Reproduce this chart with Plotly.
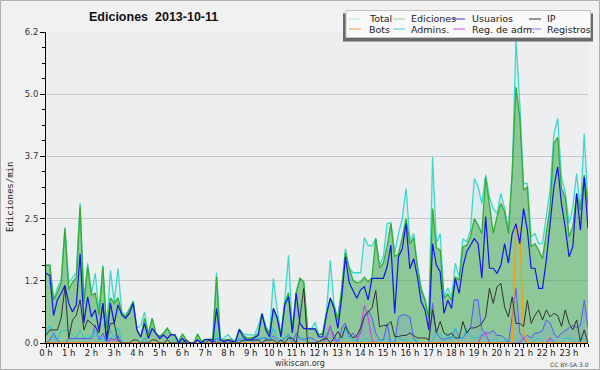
import plotly.graph_objects as go

# ---- data (10-minute buckets, 0:00 .. 23:50) ----
hour_labels = [f"{h} h" for h in range(24)]
y_tick_vals = [0, 1.24, 2.48, 3.72, 4.96, 6.2]
y_tick_text = ["0.0", "1.2", "2.5", "3.7", "5.0", "6.2"]

total = [
    1.55, 1.55, 0.86, 1.1, 1.25, 2.3,
    1.2, 1.3, 1.4, 2.79, 0.85, 1.59,
    1.0, 1.39, 0.6, 1.55, 0.3, 1.45,
    0.82, 1.49, 0.62, 0.55, 0.68, 0.84,
    0.3, 0.35, 0.62, 0.2, 0.49, 0.19,
    0.13, 0.2, 0.3, 0.17, 0.16, 0.03,
    0.18, 0.06, 0.0, 0.0, 0.18, 0.03,
    0.07, 0.07, 0.07, 1.4, 0.07, 0.1,
    0.17, 0.07, 0.03, 0.28, 0.19, 0.16,
    0.16, 0.16, 0.34, 0.6, 0.33, 0.2,
    1.29, 0.66, 0.16, 0.85, 1.75, 0.26,
    1.0, 1.29, 1.22, 0.29, 0.28, 0.41,
    0.16, 0.19, 0.62, 1.65, 0.75, 0.5,
    1.1, 1.88, 1.5, 1.4, 1.4, 1.4,
    2.1, 1.95, 1.93, 2.08, 1.55, 1.72,
    2.38, 2.4, 1.8, 2.18, 2.48, 3.08,
    2.05, 2.18, 1.55, 1.1, 0.88, 0.5,
    3.71, 2.0, 2.18, 0.92, 1.09, 0.92,
    1.59, 1.32, 2.08, 2.02, 2.25, 3.28,
    3.12, 2.78, 3.35, 2.91, 2.68, 2.58,
    2.98, 2.68, 2.25, 3.41, 6.05, 4.77,
    3.18, 3.18, 2.12, 2.18, 1.98, 1.98,
    2.52, 3.05, 4.17, 4.48, 3.31, 3.0,
    2.38, 2.71, 3.38, 2.65, 4.17, 2.75,
]
ediciones = [
    1.55, 1.55, 0.86, 1.0, 1.2, 2.28,
    1.06, 1.22, 1.3, 2.72, 0.79, 1.52,
    0.96, 0.99, 0.56, 1.52, 0.29, 0.9,
    0.79, 0.9, 0.59, 0.52, 0.66, 0.82,
    0.26, 0.12, 0.49, 0.16, 0.49, 0.19,
    0.13, 0.19, 0.29, 0.17, 0.16, 0.03,
    0.18, 0.06, 0.0, 0.0, 0.18, 0.03,
    0.07, 0.07, 0.07, 1.32, 0.06, 0.06,
    0.07, 0.07, 0.03, 0.27, 0.16, 0.1,
    0.1, 0.12, 0.2, 0.58, 0.3, 0.19,
    0.69, 0.5, 0.16, 0.8, 1.0, 0.26,
    1.0, 1.29, 1.22, 0.29, 0.28, 0.28,
    0.16, 0.19, 0.6, 0.9, 0.75, 0.45,
    1.06, 1.8, 1.49, 1.25, 1.2, 1.22,
    1.31, 1.22, 1.3, 2.08, 1.5, 1.59,
    1.93, 2.38, 1.72, 1.78, 2.1, 2.48,
    1.98, 2.1, 1.5, 1.05, 0.85, 0.5,
    2.68, 1.9, 1.85, 0.89, 0.98, 0.85,
    1.32, 1.25, 1.92, 1.95, 2.12, 2.48,
    2.35, 2.18, 3.31, 2.71, 2.19, 2.52,
    2.78, 2.62, 2.18, 3.38, 5.1, 4.5,
    3.05, 3.11, 1.92, 1.98, 1.85, 1.68,
    2.25, 2.71, 3.98, 4.1, 3.08, 2.9,
    2.12, 2.32, 2.98, 2.65, 3.35, 2.75,
]
usuarios = [
    1.39, 1.35, 0.55, 0.86, 0.99, 1.15,
    0.79, 0.62, 0.76, 1.78, 0.4, 0.92,
    0.52, 0.66, 0.24, 0.79, 0.05, 0.79,
    0.39, 0.76, 0.56, 0.49, 0.59, 0.79,
    0.26, 0.12, 0.39, 0.09, 0.29, 0.19,
    0.09, 0.16, 0.09, 0.17, 0.16, 0.0,
    0.09, 0.0, 0.0, 0.0, 0.06, 0.0,
    0.07, 0.07, 0.0, 0.69, 0.06, 0.03,
    0.06, 0.03, 0.03, 0.27, 0.12, 0.06,
    0.06, 0.1, 0.15, 0.58, 0.26, 0.12,
    0.69, 0.5, 0.12, 0.76, 0.92, 0.2,
    0.99, 0.39, 0.29, 0.28, 0.28, 0.28,
    0.12, 0.12, 0.56, 0.89, 0.69, 0.29,
    0.89, 1.72, 1.2, 1.04, 0.89, 1.06,
    1.12, 0.86, 1.29, 1.29, 1.29, 1.29,
    1.52, 1.95, 0.59, 1.72, 1.88, 2.38,
    1.48, 1.68, 1.32, 0.82, 0.66, 0.26,
    1.98, 1.55, 1.42, 0.59, 0.85, 0.69,
    1.29, 0.99, 1.52, 1.82, 1.95, 2.08,
    1.98, 1.29, 2.52, 1.49, 1.49, 1.39,
    1.55, 1.98, 1.59, 2.18, 2.38, 1.98,
    2.68, 2.25, 1.49, 1.49, 1.09, 1.09,
    1.65, 2.45, 3.11, 3.51, 2.78, 2.3,
    1.72, 1.92, 2.98, 2.25, 3.31, 2.29,
]
ip = [
    0.15, 0.26, 0.26, 0.26, 0.5, 1.12,
    0.09, 0.46, 0.55, 0.86, 0.26, 0.46,
    0.39, 0.33, 0.2, 0.79, 0.06, 0.39,
    0.39, 0.05, 0.0, 0.0, 0.0, 0.06,
    0.06, 0.0, 0.0, 0.0, 0.06, 0.06,
    0.0, 0.0, 0.06, 0.0, 0.0, 0.0,
    0.0, 0.06, 0.0, 0.0, 0.06, 0.0,
    0.0, 0.06, 0.07, 0.0, 0.0, 0.0,
    0.0, 0.0, 0.0, 0.0, 0.06, 0.06,
    0.06, 0.06, 0.06, 0.0, 0.06, 0.06,
    0.06, 0.0, 0.06, 0.0, 0.1, 0.1,
    0.0, 0.5, 1.09, 0.0, 0.0, 0.0,
    0.03, 0.06, 0.1, 0.0, 0.1, 0.23,
    0.1, 0.33, 0.2, 0.1, 0.15, 0.3,
    0.52, 0.62, 0.69, 1.05, 0.32, 0.35,
    0.35, 0.43, 0.13, 0.13, 0.15, 0.15,
    0.2, 0.15, 0.1, 0.1, 0.1, 0.06,
    0.66, 0.2, 0.43, 0.2, 0.15, 0.2,
    0.1, 0.1, 0.43, 0.2, 0.3, 0.3,
    0.33, 0.39, 0.52, 1.09, 0.79, 1.12,
    1.19, 0.72, 0.52, 0.92, 0.39, 0.39,
    0.33, 0.85, 0.39, 0.55, 0.66, 0.46,
    0.66, 0.52, 0.59, 0.55, 0.33, 0.66,
    0.39, 0.26, 0.46, 0.03, 0.26, 0.0,
]
bots = [0.0] * 124 + [2.29, 2.29, 0.2] + [0.0] * 17
admins = [
    0.2, 0.36, 0.1, 0.05, 0.25, 0.25,
    0.25, 0.15, 0.1, 0.25, 0.1, 0.15,
    0.1, 0.25, 0.05, 0.1, 0.0, 0.25,
    0.1, 0.3, 0.05, 0.0, 0.0, 0.0,
    0.0, 0.0, 0.1, 0.0, 0.0, 0.0,
    0.0, 0.0, 0.0, 0.0, 0.06, 0.0,
    0.03, 0.0, 0.0, 0.0, 0.0, 0.0,
    0.0, 0.0, 0.0, 0.2, 0.0, 0.0,
    0.0, 0.0, 0.0, 0.1, 0.06, 0.06,
    0.06, 0.06, 0.1, 0.1, 0.06, 0.06,
    0.3, 0.1, 0.06, 0.1, 0.2, 0.06,
    0.0, 0.1, 0.1, 0.0, 0.0, 0.0,
    0.0, 0.06, 0.06, 0.3, 0.06, 0.0,
    0.1, 0.3, 0.1, 0.06, 0.06, 0.0,
    0.1, 0.06, 0.0, 0.0, 0.06, 0.06,
    0.1, 0.0, 0.06, 0.1, 0.06, 0.06,
    0.0, 0.06, 0.06, 0.0, 0.0, 0.0,
    0.06, 0.2, 0.2, 0.06, 0.2, 0.06,
    0.3, 0.1, 0.1, 0.3, 0.15, 0.1,
    0.1, 0.2, 0.1, 0.06, 0.06, 0.1,
    0.0, 0.06, 0.06, 0.0, 0.0, 0.06,
    0.06, 0.0, 0.0, 0.06, 0.1, 0.0,
    0.0, 0.06, 0.06, 0.0, 0.0, 0.1,
    0.1, 0.06, 0.0, 0.1, 0.06, 0.0,
]
reg_adm = (
    [0.0] * 17 + [0.06, 0.06, 0.06] + [0.0] * 54
    + [0.1, 0.35, 0.05] + [0.0] * 6 + [0.3, 0.75, 0.5, 0.05]
    + [0.0] * 28 + [0.15, 0.2] + [0.0] * 9 + [0.1] + [0.0] * 6 + [0.1] + [0.0] * 10
)
registros = [
    0.0, 0.06, 0.2, 0.06, 0.0, 0.0,
    0.09, 0.09, 0.09, 0.09, 0.09, 0.09,
    0.09, 0.36, 0.06, 0.2, 0.0, 0.1,
    0.06, 0.15, 0.0, 0.0, 0.0, 0.0,
    0.0, 0.0, 0.1, 0.0, 0.0, 0.0,
    0.0, 0.0, 0.0, 0.0, 0.0, 0.0,
    0.0, 0.0, 0.0, 0.0, 0.0, 0.0,
    0.0, 0.0, 0.0, 0.1, 0.0, 0.0,
    0.0, 0.06, 0.0, 0.06, 0.06, 0.0,
    0.0, 0.06, 0.06, 0.1, 0.1, 0.06,
    0.15, 0.06, 0.0, 0.1, 0.15, 0.0,
    0.2, 0.1, 0.06, 0.1, 0.1, 0.06,
    0.0, 0.06, 0.15, 0.3, 0.15, 0.0,
    0.3, 0.4, 0.1, 0.2, 0.1, 0.2,
    0.55, 0.65, 0.5, 0.2, 0.06, 0.06,
    0.39, 0.0, 0.0, 0.52, 0.56, 0.56,
    0.52, 0.1, 0.0, 0.0, 0.0, 0.0,
    0.79, 0.2, 0.1, 0.06, 0.1, 0.1,
    0.3, 0.1, 0.1, 0.2, 0.3, 0.86,
    0.86, 0.26, 0.2, 0.2, 0.25, 0.15,
    0.15, 0.1, 0.0, 0.52, 1.09, 0.2,
    0.1, 0.15, 0.1, 0.2, 0.2, 0.25,
    0.46, 0.4, 0.2, 0.1, 0.2, 0.25,
    0.3, 0.35, 0.3, 0.35, 0.85, 0.3,
]
x_hours = [i / 6 for i in range(len(total))]

# ---- layout geometry (pixels) ----
W, H = 600, 370
L, R, T, B = 46, 12, 32, 27
PW, PH = W - L - R, H - T - B


def px(x):
    return (x - L) / PW


def py(y):
    return (H - B - y) / PH


fig = go.Figure()


def line(y, color, width, fill=None, fillcolor=None):
    fig.add_trace(go.Scatter(
        x=x_hours, y=y, mode="lines",
        line=dict(color=color, width=width),
        fill=fill, fillcolor=fillcolor, hoverinfo="skip", showlegend=False,
    ))


line(total, "#3fd8cc", 1.3, "tozeroy", "rgba(120,230,215,0.18)")
line(ediciones, "#34ad34", 1.3, "tozeroy", "rgba(55,160,55,0.46)")
line(registros, "#5858ff", 1.0, "tozeroy", "rgba(110,110,255,0.13)")
line(admins, "#22c6d8", 1.0)
line(reg_adm, "#cc44dd", 1.1)
line(bots, "#ff9a10", 1.4)
line(ip, "#333333", 1.0)
line(usuarios, "#1414ee", 1.2)

font_main = "DejaVu Sans"

shapes = [
    # outer frame
    dict(type="rect", xref="paper", yref="paper", x0=px(0.5), x1=px(599.5), y0=py(369.5), y1=py(0.5),
         line=dict(color="#b0b0b0", width=1), fillcolor="rgba(0,0,0,0)", layer="below"),
    # legend shadow + box
    dict(type="rect", xref="paper", yref="paper", x0=px(343), x1=px(593), y0=py(41.5), y1=py(13.5),
         line=dict(width=0), fillcolor="#6a6a6a"),
    dict(type="rect", xref="paper", yref="paper", x0=px(346), x1=px(590.5), y0=py(37.5), y1=py(10.5),
         line=dict(color="#c4c4c4", width=1), fillcolor="#f9f9f9"),
]

legend_items = [
    ("Total", "#aee8e4", 349, 367, 19),
    ("Ediciones", "#8fd38f", 393, 409, 19),
    ("Usuarios", "#3434e0", 453, 470, 19),
    ("IP", "#333333", 529, 545, 19),
    ("Bots", "#f4a444", 349, 367, 29),
    ("Admins.", "#44ccdd", 393, 409, 29),
    ("Reg. de adm.", "#d455e0", 453, 470, 29),
    ("Registros", "#8080f0", 529, 545, 29),
]
annotations = []
for name, col, sx, tx, yy in legend_items:
    shapes.append(dict(type="line", xref="paper", yref="paper", x0=px(sx), x1=px(sx + 12),
                       y0=py(yy), y1=py(yy), line=dict(color=col, width=1)))
    annotations.append(dict(text=name, xref="paper", yref="paper", x=px(tx), y=py(yy),
                            xanchor="left", yanchor="middle", showarrow=False,
                            font=dict(family=font_main, size=9.5, color="#222")))

annotations += [
    dict(text="Ediciones\u00a0 2013-10-11", xref="paper", yref="paper", x=px(153), y=py(17),
         xanchor="center", yanchor="middle", showarrow=False,
         font=dict(family="Liberation Sans", size=12.5, color="#111", weight="bold")),
    dict(text="Ediciones/min", xref="paper", yref="paper", x=px(10), y=py(197),
         xanchor="center", yanchor="middle", showarrow=False, textangle=-90,
         font=dict(family="DejaVu Sans Mono", size=9, color="#222")),
    dict(text="wikiscan.org", xref="paper", yref="paper", x=px(300), y=py(363.5),
         xanchor="center", yanchor="middle", showarrow=False,
         font=dict(family=font_main, size=8, color="#333")),
    dict(text="CC BY-SA 3.0", xref="paper", yref="paper", x=px(569), y=py(364),
         xanchor="center", yanchor="middle", showarrow=False,
         font=dict(family=font_main, size=6, color="#444")),
]

fig.update_layout(
    width=W, height=H,
    margin=dict(l=L, r=R, t=T, b=B, pad=0),
    paper_bgcolor="#f1f1f1",
    plot_bgcolor="#eceef0",
    showlegend=False,
    shapes=shapes,
    annotations=annotations,
    xaxis=dict(
        range=[0, x_hours[-1]],
        tickmode="array", tickvals=list(range(24)), ticktext=hour_labels,
        ticks="outside", ticklen=4, tickcolor="#000", tickwidth=1,
        minor=dict(dtick=1 / 6, tick0=0, ticks="outside", ticklen=3, tickcolor="#000", showgrid=False),
        showline=True, linecolor="#000", linewidth=1,
        showgrid=False, zeroline=False,
        ticklabelstandoff=-2,
        tickfont=dict(family=font_main, size=8.5, color="#222"),
        fixedrange=True,
    ),
    yaxis=dict(
        range=[0, 6.2],
        tickmode="array", tickvals=y_tick_vals, ticktext=y_tick_text,
        ticks="outside", ticklen=5, tickcolor="#000", tickwidth=1,
        minor=dict(dtick=0.31, tick0=0, ticks="outside", ticklen=3, tickcolor="#000", showgrid=False),
        showline=True, linecolor="#000", linewidth=1,
        showgrid=True, gridcolor="#c9c9c9", gridwidth=1, zeroline=False,
        tickfont=dict(family=font_main, size=8.5, color="#333"),
        fixedrange=True,
    ),
)

fig.write_html(
    "out.html",
    config={"displayModeBar": False},
    post_script="document.body.style.margin='0';document.body.style.overflow='hidden';",
)
